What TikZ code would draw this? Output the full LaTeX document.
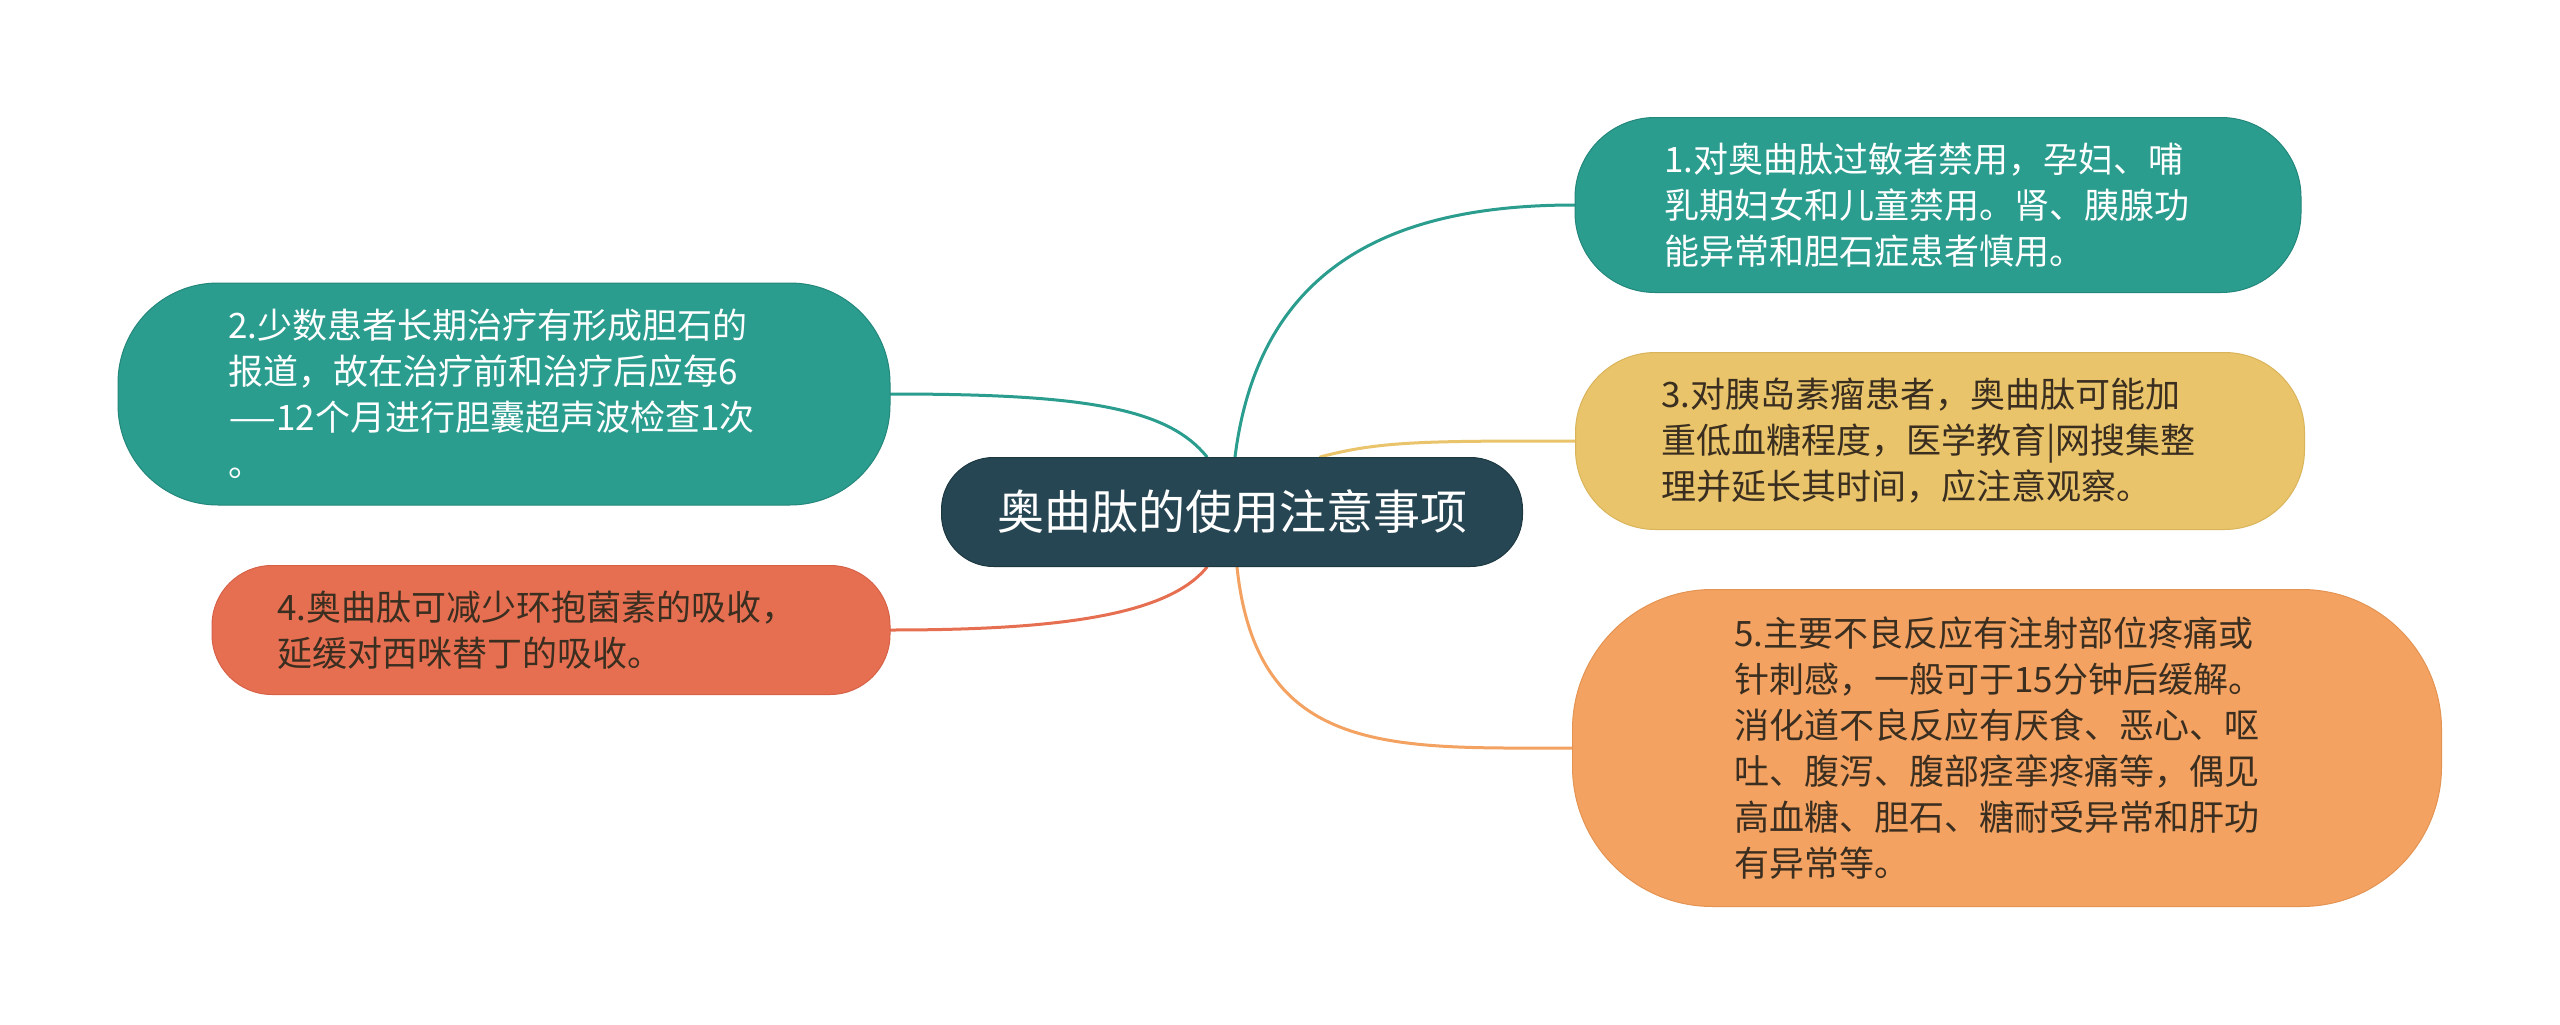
\documentclass[tikz,border=0pt]{standalone}
\usepackage{fontspec}
\usepackage{graphicx}
\setmainfont{Noto Sans CJK SC}
\usetikzlibrary{positioning,backgrounds}
\definecolor{cTeal}{HTML}{2A9D8F}
\definecolor{cTealD}{HTML}{23877B}
\definecolor{cNavy}{HTML}{264653}
\definecolor{cYellow}{HTML}{E9C46A}
\definecolor{cYellowD}{HTML}{D9B45A}
\definecolor{cCoral}{HTML}{E76F51}
\definecolor{cCoralD}{HTML}{D66147}
\definecolor{cOrange}{HTML}{F4A261}
\definecolor{cOrangeD}{HTML}{E39352}
\definecolor{cInk}{HTML}{3A2E20}
\tikzset{link/.style={draw, line width=3pt, line cap=round}}
\tikzset{leaf/.style={rectangle, line width=1pt, align=left, inner ysep=0pt,
  font=\fontsize{35}{46}\selectfont}}

\begin{document}
\begin{tikzpicture}[x=1pt,y=-1pt,
  topic/.style={rectangle, rounded corners=52pt, fill=cNavy, draw=cNavy!80!black,
    line width=1pt, text=white, minimum width=581pt, minimum height=109pt,
    inner sep=0pt, font=\fontsize{47}{56}\selectfont}]
\useasboundingbox (0,0) rectangle (2560,1025);
\node [topic] (root) at (1232,512) {奥曲肽的使用注意事项};
% right side
\node [leaf, fill=cTeal, draw=cTealD, text=white, text width=548pt, inner xsep=89pt,
  minimum height=175pt, rounded corners=80pt] (b1) at (1938,205)
  {1.对奥曲肽过敏者禁用，孕妇、哺\\乳期妇女和儿童禁用。肾、胰腺功\\能异常和胆石症患者慎用。};
\node [leaf, fill=cYellow, draw=cYellowD, text=cInk, text width=557pt, inner xsep=86pt,
  minimum height=177pt, rounded corners=80pt] (b3) at (1940,441)
  {3.对胰岛素瘤患者，奥曲肽可能加\\重低血糖程度，医学教育|网搜集整\\理并延长其时间，应注意观察。};
\node [leaf, fill=cOrange, draw=cOrangeD, text=cInk, text width=545pt, inner xsep=162pt,
  minimum height=317pt, rounded corners=140pt] (b5) at (2007,748)
  {5.主要不良反应有注射部位疼痛或\\针刺感，一般可于15分钟后缓解。\\消化道不良反应有厌食、恶心、呕\\吐、腹泻、腹部痉挛疼痛等，偶见\\高血糖、胆石、糖耐受异常和肝功\\有异常等。};
% left side
\node [leaf, fill=cTeal, draw=cTealD, text=white, text width=552pt, inner xsep=110pt,
  minimum height=222pt, rounded corners=100pt] (b2) at (504,394)
  {2.少数患者长期治疗有形成胆石的\\报道，故在治疗前和治疗后应每6\\\scalebox{1.55}[1]{—}12个月进行胆囊超声波检查1次\\。};
\node [leaf, fill=cCoral, draw=cCoralD, text=cInk, text width=548pt, inner xsep=65pt,
  minimum height=129pt, rounded corners=60pt] (b4) at (551,630)
  {4.奥曲肽可减少环抱菌素的吸收，\\延缓对西咪替丁的吸收。};
\begin{scope}[on background layer]
\fill [white] (0,0) rectangle (2560,1025);
\draw [link, cTeal] (b1.west) .. controls +(-170,0) and +(25,-200) .. ([xshift=3pt]root.north);
\draw [link, cTeal] (b2.east) .. controls +(190,0) and +(-40,-50) .. ([xshift=-25pt]root.north);
\draw [link, cYellow] (b3.west) .. controls +(-150,0) and +(60,-16) .. ([xshift=88pt]root.north);
\draw [link, cCoral] (b4.east) .. controls +(160,0) and +(-40,50) .. ([xshift=-25pt]root.south);
\draw [link, cOrange] (b5.west) .. controls +(-180,0) and +(20,190) .. ([xshift=5pt]root.south);
\end{scope}
\end{tikzpicture}
\end{document}
